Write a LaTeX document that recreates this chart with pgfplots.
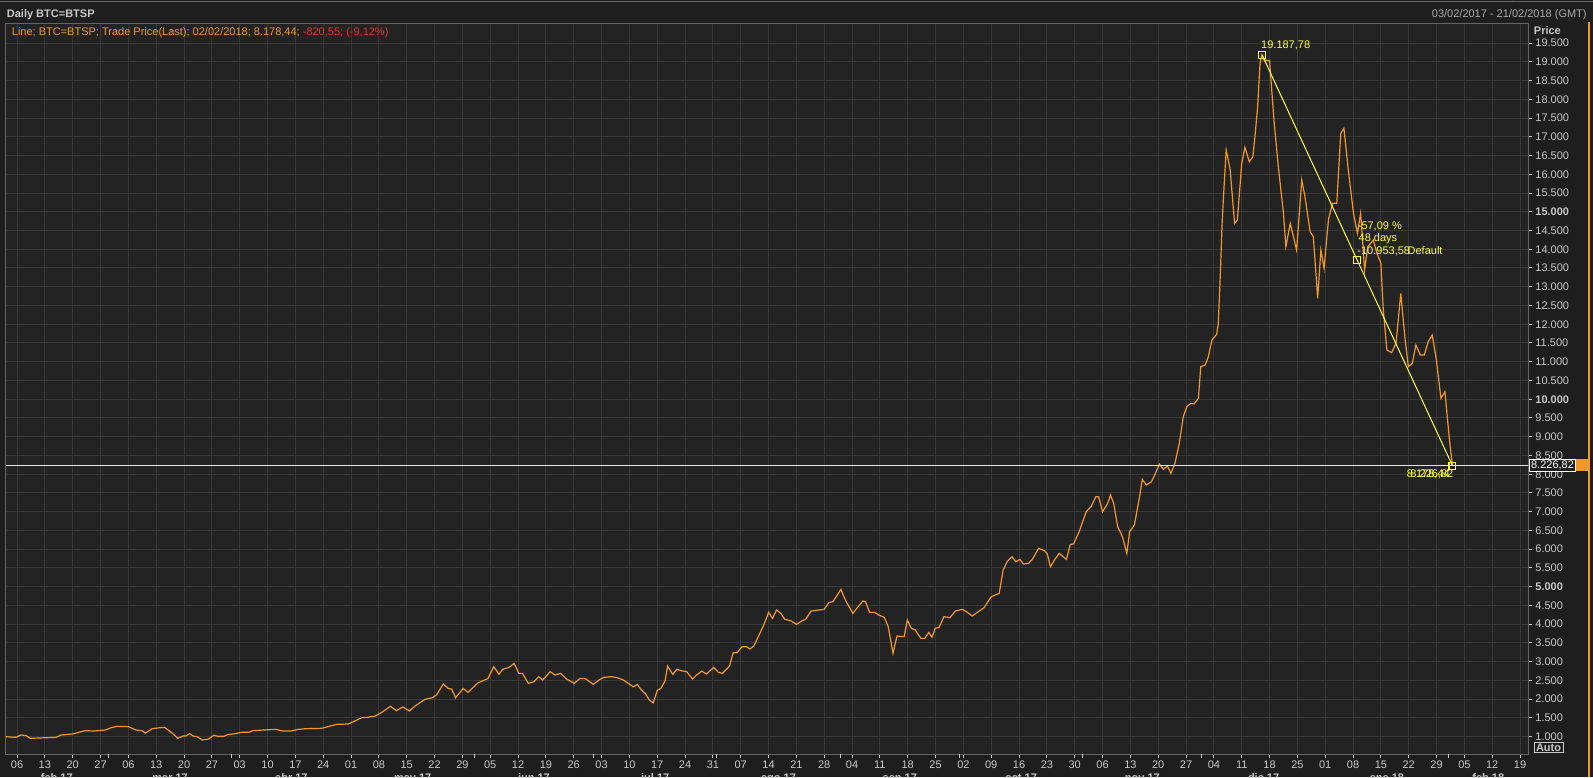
\documentclass[border=0pt]{standalone}
\usepackage{pgfplots}
\usepackage{pgfplotstable}
\pgfplotsset{compat=1.18}
\usepackage{fontspec}
\setmainfont{Liberation Sans}

\definecolor{bgout}{RGB}{30,30,30}
\definecolor{bgplot}{RGB}{35,35,35}
\definecolor{gridc}{RGB}{56,56,56}
\definecolor{framec}{RGB}{100,100,100}
\definecolor{txt}{RGB}{200,200,200}
\definecolor{btc}{RGB}{240,152,40}
\definecolor{redtxt}{RGB}{232,48,40}
\definecolor{ann}{RGB}{255,255,60}

% BTC=BTSP daily close, x = days since 03/02/2017
\pgfplotstableread{
d v
0.2 1000
2.6 982
4.0 1045
5.3 1027
6.4 956
12.7 982
14.1 1045
17.0 1071
18.5 1116
20.1 1160
22.3 1152
25.2 1178
26.7 1240
28.1 1276
31.0 1267
32.9 1178
34.4 1160
35.3 1098
37.0 1214
38.2 1231
40.1 1249
41.6 1134
43.5 956
44.7 1018
45.4 1018
46.4 1080
47.3 1018
48.3 1000
49.6 912
51.2 938
52.4 1036
53.6 1009
55.0 1009
56.0 1054
57.9 1080
59.4 1116
61.3 1116
62.3 1160
65.1 1178
68.0 1196
69.9 1152
71.9 1152
73.8 1196
75.7 1214
79.6 1223
81.5 1276
83.4 1329
86.3 1338
88.3 1436
89.7 1507
91.1 1516
93.1 1551
95.0 1667
96.9 1809
98.4 1694
100.0 1792
101.7 1685
103.2 1827
105.6 1996
107.5 2040
108.5 2112
110.2 2405
111.5 2281
112.3 2272
113.3 2040
115.2 2289
116.4 2183
119.0 2441
121.4 2547
122.9 2867
124.2 2663
125.1 2796
126.8 2849
128.0 2956
129.2 2689
130.1 2689
131.6 2423
133.0 2467
134.2 2601
135.2 2512
137.1 2734
138.3 2645
139.7 2689
141.2 2538
143.1 2423
144.6 2556
146.0 2547
147.9 2396
149.4 2512
150.5 2582
152.5 2600
154.0 2570
155.5 2511
157.0 2400
158.0 2330
159.0 2390
160.0 2250
161.0 2150
162.0 1980
163.0 1900
164.0 2230
165.0 2300
166.0 2500
166.6 2884
167.9 2662
168.9 2795
170.4 2751
171.4 2733
172.9 2538
173.9 2645
175.2 2751
176.4 2671
178.2 2849
179.4 2716
180.4 2689
182.2 2884
183.1 3240
184.1 3240
185.3 3400
186.5 3400
187.3 3338
188.3 3418
189.8 3756
190.8 3978
192.0 4316
193.0 4156
194.0 4378
195.1 4289
196.1 4129
197.6 4093
199.0 3996
200.5 4093
201.3 4129
202.7 4351
204.7 4378
206.0 4396
207.2 4582
208.2 4600
210.2 4929
211.4 4627
213.2 4289
214.4 4449
215.7 4618
216.4 4600
217.4 4316
218.7 4316
219.7 4245
221.1 4182
222.1 3933
223.3 3222
224.3 3684
226.1 3667
226.9 4111
227.9 3889
228.9 3845
230.3 3622
231.3 3622
232.3 3782
233.1 3649
233.9 3889
234.9 3916
236.1 4200
237.6 4174
239.0 4351
240.8 4396
242.0 4316
243.2 4218
244.5 4316
246.2 4440
248.0 4734
249.0 4778
250.0 4822
251.0 5445
252.0 5667
253.2 5800
254.2 5667
255.2 5729
256.1 5605
257.4 5623
258.4 5738
259.9 6023
261.4 5960
262.1 5871
262.9 5534
263.9 5712
265.1 5889
266.9 5729
267.9 6129
268.7 6138
270.1 6467
271.9 7000
273.1 7134
274.3 7400
275.0 7400
276.0 7000
277.3 7223
278.0 7445
278.8 7223
279.8 6600
281.0 6334
282.1 5889
282.8 6467
284.0 6645
285.3 7400
286.0 7863
287.0 7712
288.3 7800
289.3 8023
290.3 8272
291.3 8130
292.3 8218
293.2 8023
294.2 8290
295.3 8824
296.3 9535
297.2 9802
298.2 9890
299.0 9873
300.1 10024
300.7 10869
301.8 10913
302.6 11135
303.5 11580
304.7 11731
305.1 12024
305.5 13002
306.1 14780
306.6 15758
307.1 16647
308.1 16114
309.2 14691
309.9 14780
311.0 16291
311.8 16718
312.9 16336
313.8 16469
314.4 17091
315.0 17803
315.6 18958
316.1 19187.78
316.6 19047
318.0 19029
319.1 17447
320.2 16202
321.5 14958
322.1 14069
323.2 14691
324.8 13980
326.1 15847
326.9 15402
328.2 14469
329.0 14336
330.1 12691
330.9 13980
331.7 13491
332.8 14780
333.8 15225
334.9 15225
335.9 17091
336.7 17225
337.8 16114
339.1 14958
340.1 14424
340.9 14958
341.9 13447
342.7 14069
344.1 14247
345.0 13891
346.0 13624
346.6 12380
347.5 11313
348.7 11242
349.8 11491
351.0 12824
352.1 11580
352.9 10869
353.9 10958
354.8 11447
355.9 11180
356.9 11180
357.9 11536
358.9 11713
359.9 11091
361.1 10024
362.1 10202
363.2 8957
364.0 8226.82
}\btcdata

\begin{document}
\begin{tikzpicture}[font=\fontsize{5.5}{6.5}\selectfont]
% 1593 x 777 px, 1 px = 0.5pt
\fill[bgout] (0,0) rectangle (796.5pt,388.5pt);

\begin{axis}[
  at={(2.75pt,11.5pt)}, anchor=south west,
  scale only axis, width=761.25pt, height=365.35pt,
  xmin=0.1, xmax=383, ymin=538, ymax=20026,
  axis background/.style={fill=bgplot},
  axis line style={framec, line width=0.5pt},
  grid=major, major grid style={gridc, line width=0.5pt},
  clip mode=individual,
  xtick={3,10,...,381},
  xticklabels={06,13,20,27,06,13,20,27,03,10,17,24,01,08,15,22,29,05,12,19,26,03,10,17,24,31,07,14,21,28,04,11,18,25,02,09,16,23,30,06,13,20,27,04,11,18,25,01,08,15,22,29,05,12,19},
  extra x ticks={26,57,118,148,179,210,240,271,301,363},
  extra x tick labels={},
  extra x tick style={grid=none},
  ytick={1000,1500,...,19500},
  yticklabels={1.000,1.500,2.000,2.500,3.000,3.500,4.000,4.500,\textbf{5.000},5.500,6.000,6.500,7.000,7.500,8.000,8.500,9.000,9.500,\textbf{10.000},10.500,11.000,11.500,12.000,12.500,13.000,13.500,14.000,14.500,\textbf{15.000},15.500,16.000,16.500,17.000,17.500,18.000,18.500,19.000,19.500},
  xtick pos=bottom, ytick pos=right, yticklabel pos=right,
  tick align=outside, major tick length=2pt,
  tick style={txt, line width=0.5pt},
  tick label style={text=txt, font=\fontsize{5.5}{6.5}\selectfont, inner sep=0pt},
  yticklabel style={anchor=west, xshift=1.5pt},
  xticklabel style={anchor=north, yshift=-1.2pt},
]
% price line
\addplot[btc, line width=0.6pt] table[x=d, y=v] {\btcdata};
% last price level
\addplot[white!90!black, line width=0.6pt] coordinates {(0.1,8226.82) (383,8226.82)};
% trend annotation
\addplot[ann, line width=0.5pt, mark=square, mark size=1.7pt, mark options={solid, ann, line width=0.6pt}]
  coordinates {(316.1,19187.78) (340.05,13707.3) (364,8226.82)};
\node[ann, anchor=south west, inner sep=0pt, yshift=2.4pt, xshift=-0.6pt] at (axis cs:316.1,19187.78) {19.187,78};
\node[ann, anchor=west, inner sep=0pt] at (axis cs:340.1,14620) {-57,09 \%};
\node[ann, anchor=west, inner sep=0pt] at (axis cs:340.3,14273) {48 days};
\node[ann, anchor=west, inner sep=0pt] at (axis cs:340.0,13953) {-10.953,58};
\node[ann, anchor=east, inner sep=0pt] at (axis cs:361.6,13953) {Default};
\node[ann, anchor=east, inner sep=0pt] at (axis cs:364.3,7990) {8.226,82};
\node[ann, anchor=east, inner sep=0pt] at (axis cs:363.4,7990) {8.178,44};
% month separators below the day labels
\pgfplotsinvokeforeach{26,57,87,118,148,179,210,240,271,301,332,363}{
  \draw[txt, line width=0.5pt] (axis cs:#1,538) ++(0,-9pt) -- ++(0,-6pt);
}
% month names (cut by the lower edge, as in the screen shot)
\tikzset{month/.style={txt, anchor=north, inner sep=0pt, font=\fontsize{5.5}{6.5}\selectfont\bfseries, yshift=-9.8pt}}
\node[month] at (axis cs:13,538) {feb 17};
\node[month] at (axis cs:41.5,538) {mar 17};
\node[month] at (axis cs:72,538) {abr 17};
\node[month] at (axis cs:102.5,538) {may 17};
\node[month] at (axis cs:133,538) {jun 17};
\node[month] at (axis cs:163.5,538) {jul 17};
\node[month] at (axis cs:194.5,538) {ago 17};
\node[month] at (axis cs:225,538) {sep 17};
\node[month] at (axis cs:255.5,538) {oct 17};
\node[month] at (axis cs:286,538) {nov 17};
\node[month] at (axis cs:316.5,538) {dic 17};
\node[month] at (axis cs:347.5,538) {ene 18};
\node[month] at (axis cs:373,538) {feb 18};
\end{axis}

\begin{scope}[x=0.5pt, y=-0.5pt, shift={(0,388.5pt)}]
\draw[framec, line width=0.7pt] (0,1.5) -- (1593,1.5);
\node[txt, anchor=west, inner sep=0pt, font=\fontsize{5.5}{6.5}\selectfont\bfseries] at (6.5,14.5) {Daily BTC=BTSP};
\node[txt!85!black, anchor=east, inner sep=0pt] at (1587,14.5) {03/02/2017 - 21/02/2018 (GMT)};
\node[anchor=west, inner sep=0pt] at (11.5,33) {\color{btc}Line; BTC=BTSP; Trade Price(Last); 02/02/2018; 8.178,44; \color{redtxt}-820,55; (-9,12\%)};
\node[txt, anchor=west, inner sep=0pt, font=\fontsize{5.5}{6.5}\selectfont\bfseries] at (1533.5,31) {Price};
\fill[btc] (1587.5,22) rectangle (1590,777);
\fill[btc] (1529,459) rectangle (1590,471);
\node[draw=white, line width=0.5pt, fill=bgout, text=white, anchor=west, inner xsep=0.8pt, inner ysep=0.6pt, minimum height=6pt] at (1529,465) {8.226,82};
\node[draw=txt, line width=0.5pt, text=txt, inner xsep=1pt, inner ysep=0.6pt, font=\fontsize{5.5}{6.5}\selectfont\bfseries] at (1548.5,747.5) {Auto};
\end{scope}

\pgfresetboundingbox
\path[use as bounding box] (0,0) rectangle (796.5pt,388.5pt);
\end{tikzpicture}
\end{document}
